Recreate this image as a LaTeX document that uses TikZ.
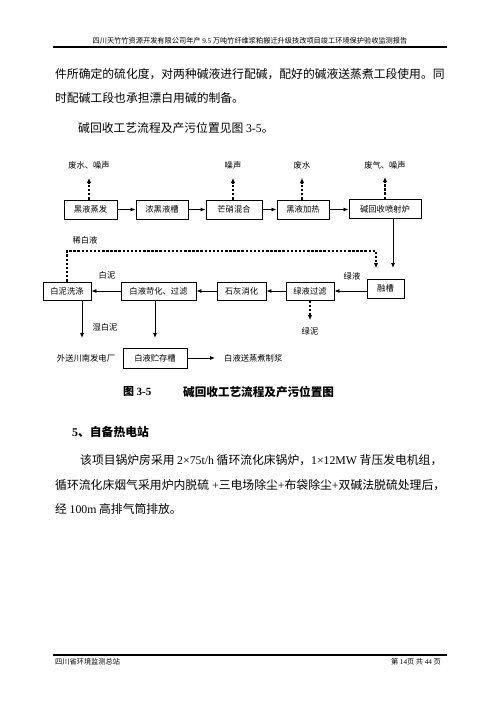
\documentclass[tikz,border=0pt]{standalone}
\usepackage{fontspec}
\setmainfont{Liberation Serif}
\newfontfamily\cjk{Noto Sans CJK SC}
\usetikzlibrary{arrows.meta}
\newcommand\tn[1]{{\rmfamily #1}}
\begin{document}
\begin{tikzpicture}[x=1bp,y=-1bp,
  txt/.style={inner sep=0pt,font=\cjk\fontsize{11.8bp}{14bp}\selectfont},
  dtxt/.style={inner sep=0pt,font=\cjk\fontsize{8.3bp}{10bp}\selectfont},
  small/.style={inner sep=0pt,font=\cjk\fontsize{7.2bp}{9bp}\selectfont},
  box/.style={draw,line width=0.9bp,minimum height=19bp,inner sep=0pt,font=\cjk\fontsize{8.3bp}{10bp}\selectfont},
  arr/.style={-{Latex[length=5bp,width=4bp]},line width=0.8bp},
  dasharr/.style={-{Latex[length=5bp,width=4.5bp]},line width=1.3bp,dash pattern=on 2.5bp off 1.6bp}]
\useasboundingbox[fill=white] (0,0) rectangle (500,707);
% header
\node[small] (hdr) at (250,41) {四川天竹竹资源开发有限公司年产 \tn{9.5} 万吨竹纤维浆粕搬迁升级技改项目竣工环境保护验收监测报告};
\draw[line width=1.6bp] (53,47) -- (447,47);
% paragraph
\node[txt,anchor=west] (p1) at (55,74) {件所确定的硫化度，对两种碱液进行配碱，配好的碱液送蒸煮工段使用。同};
\node[txt,anchor=west] (p2) at (55,98) {时配碱工段也承担漂白用碱的制备。};
\node[txt,anchor=west] (p3) at (78,128) {碱回收工艺流程及产污位置见图 \tn{3-5}。};
% top row
\node[box,minimum width=53bp] (b1) at (90.5,209.5) {黑液蒸发};
\node[box,minimum width=52bp] (b2) at (162,209.5) {浓黑液槽};
\node[box,minimum width=56bp] (b3) at (234,209.5) {芒硝混合};
\node[box,minimum width=52bp] (b4) at (303,209.5) {黑液加热};
\node[box,minimum width=72bp] (b5) at (385,209) {碱回收喷射炉};
\draw[arr] (b1) -- (b2);
\draw[arr] (b2) -- (b3);
\draw[arr] (b3) -- (b4);
\draw[arr] (b4) -- (b5.west |- b4);
% top emissions
\node[dtxt] (e1) at (89,165) {废水、噪声};
\node[dtxt] (e3) at (233,165) {噪声};
\node[dtxt] (e4) at (302,165) {废水};
\node[dtxt] (e5) at (385,165) {废气、噪声};
\coordinate (u1) at (89,178);
\coordinate (u3) at (233,178);
\coordinate (u4) at (302,178);
\coordinate (u5) at (385,177);
\draw[dasharr] (b1.north -| u1) -- (u1);
\draw[dasharr] (b3.north -| u3) -- (u3);
\draw[dasharr] (b4.north -| u4) -- (u4);
\draw[dasharr] (b5.north -| u5) -- (u5);
% bottom row
\node[box,minimum width=48bp,minimum height=18bp] (c1) at (67,291) {白泥洗涤};
\node[box,minimum width=75bp,minimum height=18bp] (c2) at (158.5,291) {白液苛化、过滤};
\node[box,minimum width=49bp,minimum height=18bp] (c3) at (241.5,291) {石灰消化};
\node[box,minimum width=48bp,minimum height=18bp] (c4) at (310,291) {绿液过滤};
\node[box,minimum width=37bp,minimum height=19bp] (c5) at (385.5,288.5) {融槽};
\draw[arr] (c5.west |- c4) -- (c4);
\draw[arr] (c4) -- (c3);
\draw[arr] (c3) -- (c2);
\draw[arr] (c2) -- (c1);
\node[dtxt] (l1) at (352,276) {绿液};
\node[dtxt] (l2) at (107,275) {白泥};
% from furnace to dissolving tank
\coordinate (t1) at (393,268);
\draw[arr] (b5.south -| t1) -- (t1);
% dilute white liquor loop
\coordinate (k) at (376,251);
\coordinate (t2) at (376,268);
\draw[dasharr] (c1.north) |- (k) -- (t2);
\node[dtxt] (l3) at (85,240) {稀白液};
% green mud
\coordinate (g) at (310,320);
\draw[dasharr] (c4.south) -- (g);
\node[dtxt] (l4) at (310,331) {绿泥};
% wet white mud
\coordinate (w) at (82,338);
\draw[arr] (c1.south -| w) -- (w);
\node[dtxt] (l5) at (105,327) {湿白泥};
\node[dtxt] (l6) at (86,358) {外送川南发电厂};
% white liquor storage
\node[box,minimum width=64bp,minimum height=20bp] (d1) at (155,358) {白液贮存槽};
\coordinate (s) at (155,338);
\draw[arr] (c2.south -| s) -- (s);
\coordinate (r) at (215,358);
\draw[arr] (d1) -- (r);
\node[dtxt,anchor=west] (l7) at (224,358) {白液送蒸煮制浆};
% caption
\node[txt,anchor=west,font=\cjk\bfseries\fontsize{11bp}{13bp}\selectfont] (cap1) at (123,392) {图 \tn{\bfseries 3-5}};
\node[txt,anchor=west,font=\cjk\bfseries\fontsize{11.6bp}{13bp}\selectfont] (cap2) at (183,392) {碱回收工艺流程及产污位置图};
% section
\node[txt,anchor=west,font=\cjk\bfseries\fontsize{11.8bp}{14bp}\selectfont] (sec) at (72,432) {\tn{\bfseries 5}、自备热电站};
\node[txt,anchor=west] (q1) at (80,460) {该项目锅炉房采用 \tn{2×75t/h} 循环流化床锅炉，\tn{1×12MW} 背压发电机组，};
\node[txt,anchor=west] (q2) at (55,485) {\resizebox{390bp}{!}{循环流化床烟气采用炉内脱硫\tn{  +}三电场除尘\tn{+}布袋除尘\tn{+}双碱法脱硫处理后，}};
\node[txt,anchor=west] (q3) at (55,509) {经 \tn{100m} 高排气筒排放。};
% footer
\draw[line width=1.2bp] (53,655) -- (447,655);
\node[small,anchor=west] (f1) at (55,662) {四川省环境监测总站};
\node[small,anchor=east] (f2) at (441,662) {第 \tn{14}页 共 \tn{44} 页};
\end{tikzpicture}
\end{document}
